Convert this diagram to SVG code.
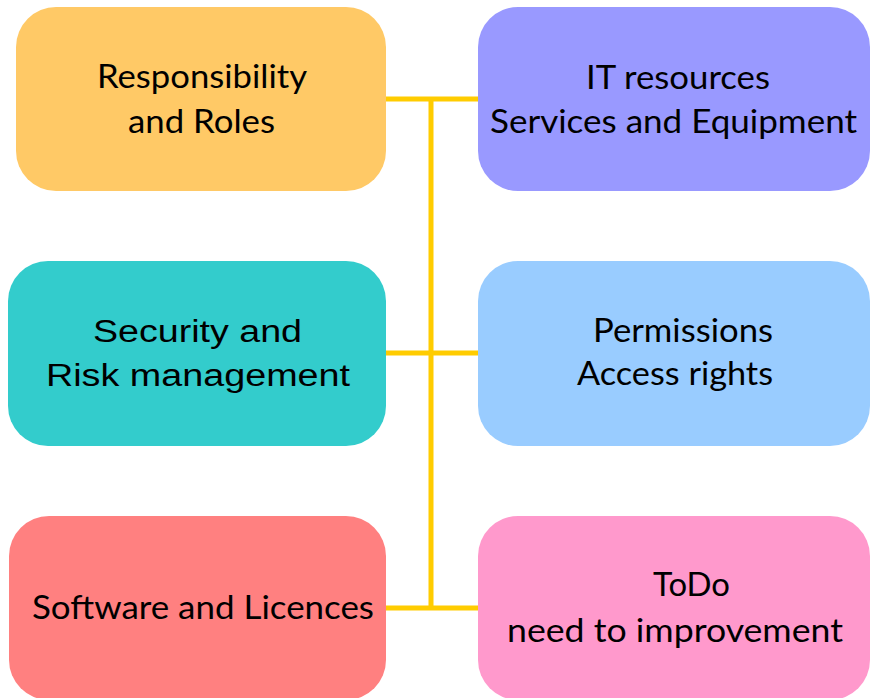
<svg xmlns="http://www.w3.org/2000/svg" width="877" height="698" viewBox="0 0 877 698">
<style>
.box{stroke:none}
.t{font-family:Lato,"Open Sans","Liberation Sans",sans-serif;font-size:33px;fill:#000;text-anchor:start}
.a{font-family:"Liberation Sans",Arial,sans-serif;font-size:31px;fill:#000}
.c{stroke:#FFCC00;stroke-width:5;fill:none}
</style>
<rect width="877" height="698" fill="#fff"/>
<g id="connectors">
<line class="c" x1="431" y1="99" x2="431" y2="608"/>
<line class="c" x1="385" y1="99" x2="478" y2="99"/>
<line class="c" x1="385" y1="353" x2="478" y2="353"/>
<line class="c" x1="385" y1="608" x2="478" y2="608"/>
</g>
<g id="n1">
<rect class="box" x="16" y="7" width="370" height="184" rx="40" fill="#FFC966"/>
<text class="t" x="97" y="88" textLength="210" lengthAdjust="spacingAndGlyphs">Responsibility</text>
<text class="t" x="128" y="133" textLength="147" lengthAdjust="spacingAndGlyphs">and Roles</text>
</g>
<g id="n2">
<rect class="box" x="478" y="7" width="392" height="184" rx="40" fill="#9999FF"/>
<text class="t" x="586" y="89" textLength="184" lengthAdjust="spacingAndGlyphs">IT resources</text>
<text class="t" x="490" y="133" textLength="367" lengthAdjust="spacingAndGlyphs">Services and Equipment</text>
</g>
<g id="n3">
<rect class="box" x="8" y="261" width="378" height="185" rx="40" fill="#33CCCC"/>
<text class="a" x="93" y="342" textLength="209" lengthAdjust="spacingAndGlyphs">Security and</text>
<text class="a" x="46" y="386" textLength="304" lengthAdjust="spacingAndGlyphs">Risk management</text>
</g>
<g id="n4">
<rect class="box" x="478" y="261" width="392" height="185" rx="40" fill="#99CCFF"/>
<text class="t" x="593" y="342" textLength="180" lengthAdjust="spacingAndGlyphs">Permissions</text>
<text class="t" x="577" y="385" textLength="196" lengthAdjust="spacingAndGlyphs">Access rights</text>
</g>
<g id="n5">
<rect class="box" x="9" y="516" width="377" height="184" rx="40" fill="#FF8080"/>
<text class="t" x="32" y="619" textLength="342" lengthAdjust="spacingAndGlyphs">Software and Licences</text>
</g>
<g id="n6">
<rect class="box" x="478" y="516" width="392" height="184" rx="40" fill="#FF99CC"/>
<text class="t" x="653" y="596" textLength="77" lengthAdjust="spacingAndGlyphs">ToDo</text>
<text class="t" x="507" y="642" textLength="336" lengthAdjust="spacingAndGlyphs">need to improvement</text>
</g>
</svg>
